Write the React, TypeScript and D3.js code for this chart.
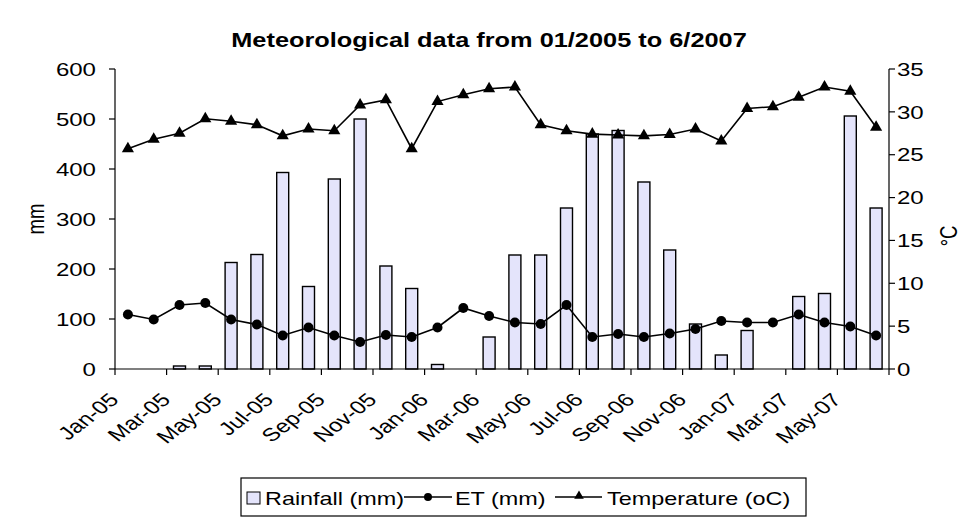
import React from "react";
import * as d3 from "d3";

const months = [
  "Jan-05","Feb-05","Mar-05","Apr-05","May-05","Jun-05","Jul-05","Aug-05","Sep-05","Oct-05","Nov-05","Dec-05",
  "Jan-06","Feb-06","Mar-06","Apr-06","May-06","Jun-06","Jul-06","Aug-06","Sep-06","Oct-06","Nov-06","Dec-06",
  "Jan-07","Feb-07","Mar-07","Apr-07","May-07","Jun-07",
];
const tickLabels = [
  "Jan-05","Mar-05","May-05","Jul-05","Sep-05","Nov-05","Jan-06","Mar-06","May-06","Jul-06","Sep-06","Nov-06","Jan-07","Mar-07","May-07",
];
const rainfall = [0, 0, 6, 6, 213, 229, 393, 165, 380, 500, 206, 161, 9, 0, 64, 228, 228, 322, 470, 477, 374, 238, 90, 28, 77, 0, 145, 151, 506, 322];
const et = [109, 99, 128, 132, 99, 89, 67, 83, 67, 54, 68, 64, 83, 122, 106, 93, 90, 128, 64, 70, 64, 71, 80, 96, 93, 93, 109, 93, 85, 67];
const temperature = [25.7, 26.8, 27.5, 29.2, 28.9, 28.5, 27.2, 28.0, 27.8, 30.8, 31.4, 25.7, 31.2, 32.0, 32.7, 32.9, 28.5, 27.8, 27.4, 27.3, 27.2, 27.35, 28.0, 26.6, 30.4, 30.6, 31.7, 32.9, 32.4, 28.2];
const leftTicks = [0, 100, 200, 300, 400, 500, 600];
const rightTicks = [0, 5, 10, 15, 20, 25, 30, 35];

const SX = 1.3;
const FONT = "'Liberation Sans', Arial, sans-serif";

function SText(props: { x: number; y: number; rot?: number; anchor?: string; size?: number; weight?: string; dy?: string; children: React.ReactNode }) {
  const { x, y, rot = 0, anchor = "start", size = 18.5, weight = "normal", dy = "0", children } = props;
  return (
    <text
      transform={`translate(${x},${y}) scale(${SX},1) rotate(${rot})`}
      textAnchor={anchor}
      fontSize={size}
      fontWeight={weight}
      fontFamily={FONT}
      dy={dy}
      fill="#000"
    >
      {children}
    </text>
  );
}

export default function App() {
  const L = 115, R = 889, T = 69, B = 369;
  const xCat = d3.scaleBand<string>().domain(months).range([L, R]).padding(0);
  const xBar = d3.scaleBand<string>().domain(months).range([L, R]).paddingInner(0.535).paddingOuter(0.2675);
  const yL = d3.scaleLinear().domain([0, 600]).range([B, T]);
  const yR = d3.scaleLinear().domain([0, 35]).range([B, T]);
  const cx = (m: string) => (xCat(m) as number) + xCat.bandwidth() / 2;

  const etLine = d3.line<number>().x((_, i) => cx(months[i])).y((d) => yL(d));
  const tLine = d3.line<number>().x((_, i) => cx(months[i])).y((d) => yR(d));
  const tri = d3.symbol().type(d3.symbolTriangle).size(64)();

  return (
    <svg width={970} height={518} style={{ position: "absolute", left: 0, top: 0, background: "#fff" }}>
      <rect x={0} y={0} width={970} height={518} fill="#fff" />
      <SText x={489} y={47} anchor="middle" size={19.5} weight="bold">
        Meteorological data from 01/2005 to 6/2007
      </SText>

      {/* bars */}
      {rainfall.map((v, i) => (
        <rect
          key={"b" + i}
          x={xBar(months[i])}
          y={yL(v)}
          width={xBar.bandwidth()}
          height={B - yL(v)}
          fill="#e4e4fb"
          stroke="#000"
          strokeWidth={1.4}
        />
      ))}

      {/* axes */}
      <line x1={L} x2={L} y1={T} y2={B} stroke="#000" strokeWidth={1.2} />
      <line x1={R} x2={R} y1={T} y2={B} stroke="#000" strokeWidth={1.2} />
      <line x1={L} x2={R} y1={B} y2={B} stroke="#000" strokeWidth={1.2} />
      {leftTicks.map((t) => (
        <g key={"lt" + t}>
          <line x1={L - 6} x2={L} y1={yL(t)} y2={yL(t)} stroke="#000" strokeWidth={1.2} />
          <SText x={96} y={yL(t)} anchor="end" dy="0.36em">{t}</SText>
        </g>
      ))}
      {rightTicks.map((t) => (
        <g key={"rt" + t}>
          <line x1={R} x2={R + 6} y1={yR(t)} y2={yR(t)} stroke="#000" strokeWidth={1.2} />
          <SText x={897} y={yR(t)} anchor="start" dy="0.36em">{t}</SText>
        </g>
      ))}
      {d3.range(0, months.length + 1, 2).map((i) => {
        const x = i < months.length ? (xCat(months[i]) as number) : R;
        return <line key={"xt" + i} x1={x} x2={x} y1={B} y2={B + 6} stroke="#000" strokeWidth={1.2} />;
      })}
      {tickLabels.map((lab) => {
        const x = xCat(lab) as number;
        return (
          <SText key={"xl" + lab} x={x + 5} y={401} rot={-45} anchor="end">
            {lab}
          </SText>
        );
      })}
      <SText x={44} y={219} rot={-90} anchor="middle">mm</SText>
      <SText x={957} y={236} rot={-90} anchor="middle">°C</SText>

      {/* ET */}
      <path d={etLine(et) || ""} fill="none" stroke="#000" strokeWidth={1.6} />
      {et.map((v, i) => (
        <circle key={"e" + i} cx={cx(months[i])} cy={yL(v)} r={5} fill="#000" />
      ))}

      {/* Temperature */}
      <path d={tLine(temperature) || ""} fill="none" stroke="#000" strokeWidth={1.6} />
      {temperature.map((v, i) => (
        <path key={"t" + i} d={tri || ""} transform={`translate(${cx(months[i])},${yR(v)})`} fill="#000" />
      ))}

      {/* legend */}
      <rect x={241} y={478} width={565} height={38} fill="#fff" stroke="#000" strokeWidth={1.2} />
      <rect x={247} y={492} width={13} height={12} fill="#e4e4fb" stroke="#000" strokeWidth={1} />
      <SText x={265} y={505} size={18}>Rainfall (mm)</SText>
      <line x1={404} x2={452} y1={497} y2={497} stroke="#000" strokeWidth={1.6} />
      <circle cx={428} cy={497} r={4} fill="#000" />
      <SText x={455} y={505} size={18}>ET (mm)</SText>
      <line x1={555} x2={602} y1={497} y2={497} stroke="#000" strokeWidth={1.6} />
      <path d={d3.symbol().type(d3.symbolTriangle).size(40)() || ""} transform="translate(579,496)" fill="#000" />
      <SText x={607} y={505} size={18}>Temperature (oC)</SText>
    </svg>
  );
}
